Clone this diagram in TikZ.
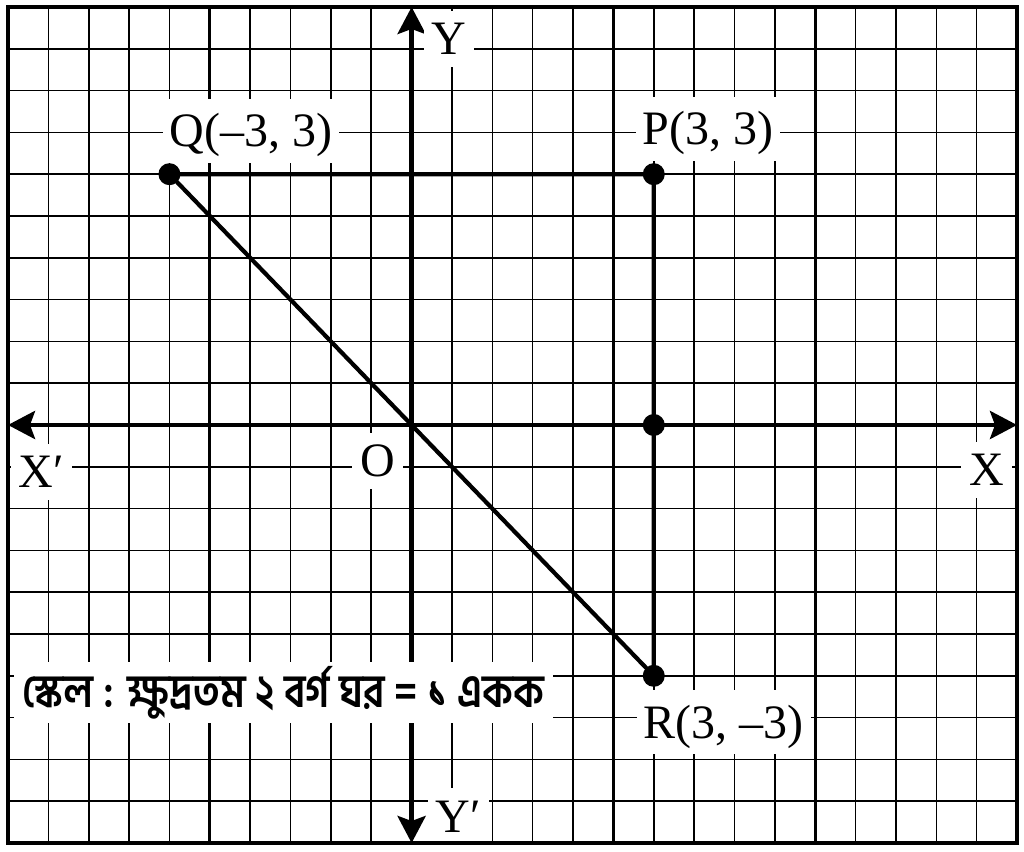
\documentclass[tikz,border=0pt]{standalone}
\usepackage{fontspec}
\usepackage{graphicx}
\setmainfont{Liberation Serif}
\newfontfamily\bnfont[Script=Bengali]{Hind Siliguri}
\usetikzlibrary{arrows.meta}
\begin{document}
\begin{tikzpicture}[x=20.18pt,y=20.9pt,
  thingrid/.style={line width=0.8pt},
  thickgrid/.style={line width=1.4pt},
  frame/.style={line width=1.7pt},
  axisline/.style={line width=2.3pt, >={Stealth[length=13.5pt,width=14pt,inset=2.5pt]}, <->},
  seg/.style={line width=2.1pt},
  dot/.style={circle, fill=black, inner sep=0pt, minimum size=11pt},
  lbl/.style={fill=white, anchor=base, inner ysep=0pt, inner xsep=3.5pt, text height=24pt, text depth=8pt, font=\fontsize{24}{28}\selectfont},
  axlbl/.style={fill=white, anchor=base, inner ysep=0pt, inner xsep=4pt, text height=22pt, text depth=6pt, font=\fontsize{24}{28}\selectfont},
  scalelbl/.style={fill=white, anchor=base, inner ysep=0pt, inner xsep=4pt, text height=23pt, text depth=7.5pt},
]
\useasboundingbox (-10.198,-10.215) rectangle (15.173,10.167);
% grid
\foreach \x in {-9,...,14} \draw[thingrid] (\x,-10) -- (\x,10);
\foreach \y in {-9,...,9} \draw[thingrid] (-10,\y) -- (15,\y);
\foreach \x in {-5,5,10} \draw[thickgrid] (\x,-10) -- (\x,10);
\foreach \y in {-5,5} \draw[thickgrid] (-10,\y) -- (15,\y);
% coordinates
\coordinate (O) at (0,0);
\coordinate (xl) at (-10,0);
\coordinate (xr) at (15,0);
\coordinate (yt) at (0,10);
\coordinate (yb) at (0,-10);
\coordinate (p) at (6,6);
\coordinate (q) at (-6,6);
\coordinate (r) at (6,-6);
\coordinate (m) at (6,0);
% axes
\draw[axisline] (xl) -- (xr);
\draw[axisline] (yb) -- (yt);
% triangle
\draw[seg, line join=round] (q) -- (p) -- (r) -- cycle;
% dots
\node[dot] (P) at (p) {};
\node[dot] (Q) at (q) {};
\node[dot] (R) at (r) {};
\node[dot] (M) at (m) {};
% labels
\node[lbl] (lq) at (-3.979,6.651) {Q(–3, 3)};
\node[lbl] (lp) at (7.344,6.699) {P(3, 3)};
\node[lbl] (lr) at (7.728,-7.488) {R(3, –3)};
\node[axlbl] (lxl) at (-9.17,-1.507) {X′};
\node[axlbl] (lo) at (-0.845,-1.244) {O};
\node[axlbl] (lx) at (14.244,-1.459) {X};
\node[axlbl] (ly) at (0.927,8.852) {Y};
\node[axlbl] (lyp) at (1.162,-9.737) {Y′};
\node[scalelbl] (scale) at (-3.174,-6.77) {\scalebox{1}[1.15]{\resizebox{261pt}{!}{\bnfont\fontsize{20}{24}\selectfont\bfseries স্কেল : ক্ষুদ্রতম ২ বর্গ ঘর = ১ একক}}};
% frame
\draw[frame] (-10,-10) rectangle (15,10);
\end{tikzpicture}
\end{document}
